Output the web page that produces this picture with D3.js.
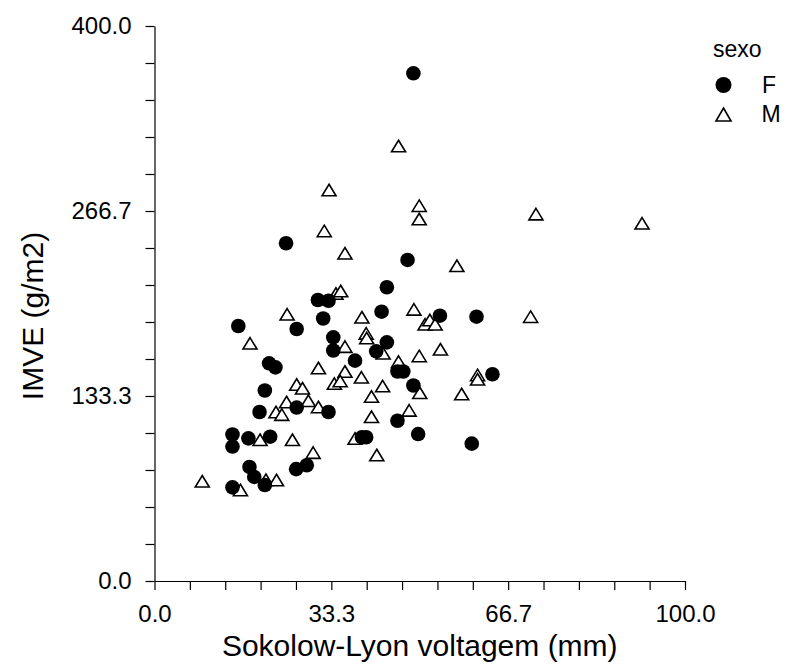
<!DOCTYPE html>
<html>
<head>
<meta charset="utf-8">
<script src="https://cdn.jsdelivr.net/npm/d3@7"></script>
<style>
  html, body { margin: 0; padding: 0; background: #fff; }
  svg { display: block; }
  text { font-family: "Liberation Sans", Arial, Helvetica, sans-serif; fill: #000; }
</style>
</head>
<body>
<svg id="chart" width="788" height="666"></svg>
<script>
// Sokolow-Lyon voltage (mm) vs. left ventricular mass index (g/m2), by sex

// Women (F)
const femaleVoltage = [48.8, 24.8, 30.8, 32.8, 31.8, 15.8, 26.8, 33.7, 33.7, 47.7,
  43.8, 42.8, 53.8, 60.7, 43.8, 41.8, 37.8, 45.8, 46.9, 48.8,
  63.7, 21.6, 22.8, 20.8, 45.8, 49.7, 39.1, 39.9, 59.8, 19.8,
  26.8, 32.8, 14.7, 14.7, 17.7, 21.8, 26.7, 28.7, 17.9, 18.8,
  20.8, 14.7];
const femaleIMVE = [365.9, 243.4, 202.5, 202.0, 189.2, 183.8, 181.6, 175.6, 166.1, 231.4,
  211.7, 194.1, 191.2, 190.5, 172.0, 165.5, 158.8, 151.0, 151.0, 140.9,
  149.0, 156.9, 154.0, 137.3, 115.5, 105.9, 103.6, 103.6, 99.0, 121.8,
  125.0, 121.8, 105.6, 96.9, 102.8, 104.0, 80.6, 83.4, 82.2, 75.0,
  69.2, 67.5];

// Men (M)
const maleVoltage = [46.0, 32.9, 49.9, 49.9, 71.9, 91.9, 32.0, 35.9, 57.0, 34.2,
  35.1, 25.0, 48.9, 51.0, 51.9, 52.9, 70.9, 39.1, 18.0, 35.9,
  39.9, 40.0, 43.1, 46.0, 49.9, 53.9, 35.9, 39.0, 30.9, 33.9,
  35.0, 26.8, 27.9, 43.0, 50.0, 57.9, 40.9, 60.9, 60.9, 48.0,
  40.9, 37.8, 41.9, 24.9, 29.0, 30.9, 22.9, 24.0, 19.9, 26.0,
  29.9, 21.0, 23.0, 9.0, 16.2];
const maleIMVE = [313.5, 281.8, 270.5, 260.9, 264.4, 257.8, 252.3, 236.2, 227.2, 207.2,
  209.0, 192.2, 195.8, 185.0, 188.1, 185.0, 190.5, 190.1, 171.3, 168.9,
  178.5, 175.1, 164.1, 158.1, 162.2, 167.0, 151.0, 146.8, 153.5, 142.3,
  144.1, 141.6, 138.9, 140.5, 135.7, 134.8, 133.0, 148.5, 145.4, 123.0,
  118.4, 102.7, 90.8, 129.0, 129.9, 125.4, 121.8, 119.9, 101.8, 101.8,
  92.5, 73.0, 72.8, 71.9, 65.6];

// Axis labels
const xTickLabels = ["0.0", "33.3", "66.7", "100.0"];
const yTickLabels = ["0.0", "133.3", "266.7", "400.0"];
const xTitle = "Sokolow-Lyon voltagem (mm)";
const yTitle = "IMVE (g/m2)";
const legendTitle = "sexo";
const legendLabels = ["F", "M"];

const svg = d3.select("#chart");

const x = d3.scaleLinear().domain([0, 100]).range([154.5, 685]);
const y = d3.scaleLinear().domain([0, 400]).range([581, 26]);

// 15 tick intervals per axis, labelled every fifth tick
const xTickVals = d3.range(16).map(i => x.domain()[0] + i * (x.domain()[1] - x.domain()[0]) / 15);
const yTickVals = d3.range(16).map(i => y.domain()[0] + i * (y.domain()[1] - y.domain()[0]) / 15);

const xAxis = d3.axisBottom(x)
  .tickValues(xTickVals)
  .tickSize(9)
  .tickSizeOuter(0)
  .tickPadding(15)
  .tickFormat((d, i) => i % 5 === 0 ? xTickLabels[i / 5] : "");

const yAxis = d3.axisLeft(y)
  .tickValues(yTickVals)
  .tickSize(9)
  .tickSizeOuter(0)
  .tickPadding(14)
  .tickFormat((d, i) => i % 5 === 0 ? yTickLabels[i / 5] : "");

const gx = svg.append("g").attr("transform", `translate(0,${y.range()[0]})`).call(xAxis);
const gy = svg.append("g").attr("transform", `translate(${x.range()[0]},0)`).call(yAxis);

[gx, gy].forEach(g => {
  g.selectAll("path.domain").attr("stroke", "#000").attr("stroke-width", 1.2);
  g.selectAll(".tick line").attr("stroke", "#000").attr("stroke-width", 1.2);
  g.selectAll(".tick text")
    .style("font-family", '"Liberation Sans", Arial, sans-serif')
    .style("font-size", "24px")
    .attr("fill", "#000");
});

// Axis titles
svg.append("text")
  .attr("x", (x.range()[0] + x.range()[1]) / 2)
  .attr("y", 656)
  .attr("text-anchor", "middle")
  .style("font-size", "30px")
  .text(xTitle);

svg.append("text")
  .attr("transform", "translate(43,316) rotate(-90)")
  .attr("text-anchor", "middle")
  .style("font-size", "30px")
  .text(yTitle);

// Marker shapes
const circleR = 7.3;
function trianglePath(w, h) {
  return `M0,${-h / 2}L${w / 2},${h / 2}L${-w / 2},${h / 2}Z`;
}

const males = maleVoltage.map((v, i) => ({ v, m: maleIMVE[i] }));
const females = femaleVoltage.map((v, i) => ({ v, m: femaleIMVE[i] }));

const plot = svg.append("g");

plot.selectAll("path.male")
  .data(males)
  .enter().append("path")
  .attr("class", "male")
  .attr("d", trianglePath(14, 11.5))
  .attr("transform", d => `translate(${x(d.v)},${y(d.m)})`)
  .attr("fill", "#fff")
  .attr("stroke", "#000")
  .attr("stroke-width", 1.6)
  .attr("stroke-linejoin", "miter");

plot.selectAll("circle.female")
  .data(females)
  .enter().append("circle")
  .attr("class", "female")
  .attr("cx", d => x(d.v))
  .attr("cy", d => y(d.m))
  .attr("r", circleR)
  .attr("fill", "#000");

// Legend
const legend = svg.append("g");
legend.append("text")
  .attr("x", 713).attr("y", 57)
  .style("font-size", "23px")
  .text(legendTitle);
legend.append("circle")
  .attr("cx", 723.5).attr("cy", 85)
  .attr("r", 8)
  .attr("fill", "#000");
legend.append("text")
  .attr("x", 762).attr("y", 93)
  .style("font-size", "23px")
  .text(legendLabels[0]);
legend.append("path")
  .attr("d", trianglePath(15, 13))
  .attr("transform", "translate(723.5,114.5)")
  .attr("fill", "#fff")
  .attr("stroke", "#000")
  .attr("stroke-width", 1.6);
legend.append("text")
  .attr("x", 761.5).attr("y", 122)
  .style("font-size", "23px")
  .text(legendLabels[1]);
</script>
</body>
</html>
